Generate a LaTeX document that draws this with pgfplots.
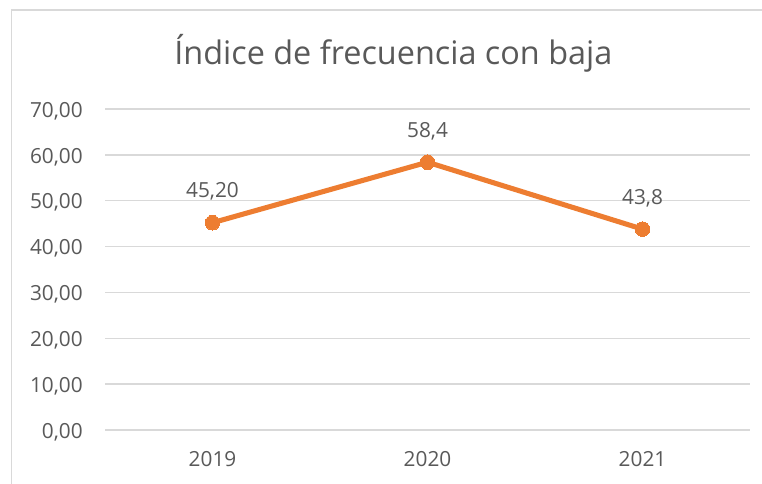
\documentclass[border=0pt]{standalone}
\usepackage{fontspec}
\setmainfont{Open Sans}
\usepackage{pgfplots}
\pgfplotsset{compat=1.18}

\definecolor{gridgray}{HTML}{D9D9D9}
\definecolor{txtgray}{HTML}{595959}
\definecolor{lineorange}{HTML}{ED7D31}

\begin{document}
\begin{tikzpicture}
\useasboundingbox (0,0) rectangle (571.5pt,363pt);
% chart frame (only left and top edges fall inside the picture)
\draw[gridgray, line width=1.1pt] (8.6pt,0) -- (8.6pt,355.5pt) -- (571.5pt,355.5pt);
\node[txtgray, font=\fontsize{24.3}{29}\selectfont, anchor=base, inner sep=0pt] at (295pt,314.25pt) {Índice de frecuencia con baja};
\begin{axis}[
    at={(78.75pt,40.5pt)}, anchor=south west,
    scale only axis,
    width=483.75pt, height=240.75pt,
    xmin=-0.5, xmax=2.5,
    ymin=0, ymax=70,
    xtick={0,1,2},
    xticklabels={2019,2020,2021},
    ytick={0,10,...,70},
    ymajorgrids,
    major grid style={gridgray, line width=1.1pt},
    axis line style={draw=none},
    tick style={draw=none},
    ticklabel style={txtgray, font=\fontsize{15.6}{18}\selectfont, inner sep=0pt},
    yticklabel style={/pgf/number format/use comma, /pgf/number format/fixed,
        /pgf/number format/fixed zerofill, /pgf/number format/precision=2,
        /pgf/number format/assume math mode=true, anchor=base east, xshift=-16.5pt, yshift=-6.2pt},
    xticklabel style={anchor=base, yshift=-27.75pt},
    clip=false,
    nodes near coords,
    point meta=explicit symbolic,
    every node near coord/.append style={txtgray, font=\fontsize{15.6}{18}\selectfont, anchor=base, yshift=18.75pt, inner sep=0pt},
]
\addplot[lineorange, line width=3.8pt, mark=*, mark size=5.5pt, mark options={fill=lineorange, draw=lineorange, line width=0pt}]
coordinates {
    (0,45.2) [45,20]
    (1,58.4) [58,4]
    (2,43.8) [43,8]
};
\end{axis}
\end{tikzpicture}
\end{document}
